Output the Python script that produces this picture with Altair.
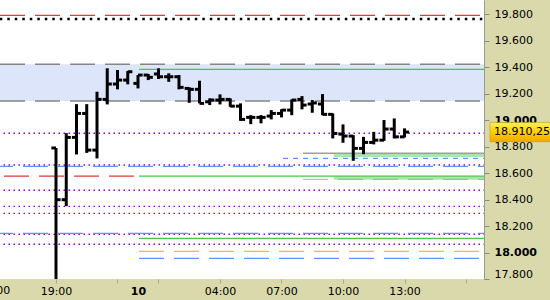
import altair as alt
import pandas as pd

# ---------------- data ----------------
# 30-minute OHLC bars (index points), bar index 0 = 19:00 of the previous day
bar_open  = [18790, 18399, 18870, 19051, 18774, 19157, 19273, 19303, 19278, 19341,
             19349, 19328, 19328, 19240, 19233, 19139, 19152, 19157, 19106, 19021,
             19021, 19031, 19051, 19076, 19157, 19122, 19122, 19044, 18895, 18880,
             18787, 18832, 18849, 18933, 18874]
bar_high  = [18790, 18902, 19121, 19121, 19215, 19392, 19379, 19371, 19341, 19349,
             19392, 19354, 19341, 19248, 19298, 19165, 19195, 19165, 19127, 19038,
             19038, 19076, 19082, 19157, 19182, 19152, 19197, 19051, 18968, 18887,
             18874, 18912, 19001, 19013, 18938]
bar_low   = [17700, 18350, 18741, 18753, 18711, 19119, 19233, 19271, 19240, 19303,
             19311, 19290, 19233, 19131, 19127, 19114, 19119, 19101, 18995, 18970,
             18976, 19006, 19021, 19038, 19082, 19056, 19038, 18862, 18829, 18693,
             18743, 18817, 18844, 18862, 18870]
bar_close = [18399, 18870, 19051, 18774, 19157, 19273, 19303, 19366, 19341, 19324,
             19328, 19328, 19248, 19233, 19127, 19152, 19157, 19106, 19006, 19021,
             19021, 19051, 19076, 19152, 19114, 19130, 19044, 18900, 18880, 18787,
             18832, 18849, 18933, 18874, 18910.25]
last_price = 18910.25

# horizontal levels
band_levels        = [19422, 19145]          # shaded zone (top, bottom)
red_dash_full      = [19792]
black_dot_full     = [19764]
gray_dash_full     = [19422, 19145]
purple_dot_full    = [18901, 18661, 18470, 18349, 18296, 18138, 18062]
blue_dash_full     = [18651, 18145]
red_dash_prevday   = [18577]
green_today        = [19384, 18577, 18107]
orange_dash_today  = [18009]
blue_dash_today    = [17956]
blue_short_dash    = [18712]
gray_solid_late    = [18750]
gray_dash_late     = [18553]
green_band_late    = [18735, 18563]

# starting / ending bar positions of the partial levels
day_start   = 8.1
prev_end    = 7.6
blue_start  = 22.15
gray_start  = 24.1
green_start = 27.1

# axis ticks
x_tick_pos  = [0, 6, 8, 10, 16, 22, 28, 34, 40]
x_tick_text = ["19:00", "", "10", "", "04:00", "07:00", "10:00", "13:00", ""]
prev_label_pos  = [-6]
prev_label_text = ["16:00"]
y_tick_vals = list(range(17800, 19801, 200))

XMIN, XMAX = -5.463, 41.756
YMIN, YMAX = 17800, 19908

FONT = "DejaVu Sans"
TICK = 0.45

# ---------------- scales / axes ----------------
label_expr = "''"
for p, t in zip(reversed(x_tick_pos), reversed(x_tick_text)):
    label_expr = f"datum.value == {p} ? '{t}' : ({label_expr})"

x_scale = alt.Scale(domain=[XMIN, XMAX], nice=False, zero=False)
y_scale = alt.Scale(domain=[YMIN, YMAX], nice=False, zero=False)

x_axis = alt.Axis(
    values=x_tick_pos, labelExpr=label_expr, domain=False, grid=False,
    tickSize=4, tickColor="#A9A996", labelPadding=2, labelFont=FONT,
    labelFontSize=11, labelColor="#000000", labelFlush=False, labelOverlap=False,
    title=None,
    tickOpacity={"condition": {"test": "datum.value == 8", "value": 0}, "value": 1},
    labelFontWeight={"condition": {"test": "datum.value == 8", "value": "bold"}, "value": "normal"},
)
y_axis = alt.Axis(
    orient="right", values=y_tick_vals,
    labelExpr="replace(format(datum.value, ','), ',', '.')",
    domain=True, domainColor="#9A9A9A", grid=False, tickSize=5, tickColor="#8A8A8A",
    labelPadding=5, labelFont=FONT, labelFontSize=11, labelColor="#000000",
    labelFlush=True, labelOverlap=False, title=None,
    labelFontWeight={"condition": {"test": "datum.value % 1000 == 0", "value": "bold"}, "value": "normal"},
)


def X(f="k"):
    return alt.X(f"{f}:Q", scale=x_scale, axis=x_axis)


def Y(f="v"):
    return alt.Y(f"{f}:Q", scale=y_scale, axis=y_axis)


def full_lines(levels, color, width, dash=None, offset=0):
    kw = dict(color=color, strokeWidth=width, clip=True)
    if dash:
        kw["strokeDash"] = dash
        kw["strokeDashOffset"] = offset
    return alt.Chart(pd.DataFrame({"v": levels})).mark_rule(**kw).encode(y=Y())


def part_lines(levels, start, end, color, width, dash=None, offset=0, opacity=1.0):
    kw = dict(color=color, strokeWidth=width, clip=True, opacity=opacity)
    if dash:
        kw["strokeDash"] = dash
        kw["strokeDashOffset"] = offset
    df = pd.DataFrame({"v": levels, "k": [start] * len(levels), "k2": [end] * len(levels)})
    return alt.Chart(df).mark_rule(**kw).encode(x=X(), x2=alt.X2("k2:Q"), y=Y())


# ---------------- layers ----------------
band = alt.Chart(pd.DataFrame({"top": [band_levels[0]], "bot": [band_levels[1]],
                               "k": [XMIN], "k2": [XMAX]})).mark_rect(
    color="#DDE5FB", clip=True).encode(x=X(), x2=alt.X2("k2:Q"), y=Y("top"), y2=alt.Y2("bot:Q"))

layers = [
    band,
    full_lines(red_dash_full, "#E03A3A", 1.3, [25, 10], 31),
    full_lines(black_dot_full, "#000000", 2.5, [2.5, 5], 5.8),
    full_lines(gray_dash_full, "#858585", 1.5, [25, 10], 31),
    full_lines(purple_dot_full, "#8A00D8", 1.4, [1.5, 3.5], 1),
    full_lines(blue_dash_full, "#5A96FF", 1.3, [25, 10], 19),
    part_lines(red_dash_prevday, XMIN, prev_end, "#E03A3A", 1.3, [25, 10], 31),
    part_lines(green_today, day_start, XMAX, "#46C846", 1.4),
    part_lines(orange_dash_today, day_start, XMAX, "#F4B844", 1.4, [25, 10], 0),
    part_lines(blue_dash_today, day_start, XMAX, "#5A96FF", 1.4, [25, 10], 0),
    part_lines(blue_short_dash, blue_start, XMAX, "#5A96FF", 1.3, [5, 5], 0),
    part_lines(gray_solid_late, gray_start, XMAX, "#A0A0A0", 1.3),
    part_lines(gray_dash_late, gray_start, XMAX, "#BDBDBD", 1.3, [25, 10], 0),
    part_lines(green_band_late, green_start, XMAX, "#5CC85C", 3.3, opacity=0.5),
]

bars = pd.DataFrame({"k": list(range(len(bar_open))), "o": bar_open, "h": bar_high,
                     "l": bar_low, "c": bar_close})
base = alt.Chart(bars)
hl = base.mark_rule(color="#000000", strokeWidth=3, clip=True).encode(
    x=X(), y=Y("l"), y2=alt.Y2("h:Q"))
op = base.transform_calculate(k0=f"datum.k - {TICK}").mark_rule(
    color="#000000", strokeWidth=3, clip=True).encode(x=X("k0"), x2=alt.X2("k:Q"), y=Y("o"))
cl = base.transform_calculate(k1=f"datum.k + {TICK}").mark_rule(
    color="#000000", strokeWidth=3, clip=True).encode(x=X(), x2=alt.X2("k1:Q"), y=Y("c"))
layers += [hl, op, cl]

# left-edge time label of previous day
prev_lab = alt.Chart(pd.DataFrame({"k": prev_label_pos, "t": prev_label_text})).mark_text(
    font=FONT, fontSize=11, color="#000000", baseline="middle", align="center").encode(
    x=X(), y=alt.value(291), text="t:N")
layers.append(prev_lab)

# last-price marker on the right axis
price_txt = f"{last_price:,.2f}".replace(",", "X").replace(".", ",").replace("X", ".")
price_df = pd.DataFrame({"v": [last_price], "t": [price_txt]})
grad = alt.Gradient(gradient="linear", x1=0, x2=0, y1=0, y2=1,
                    stops=[alt.GradientStop(color="#FFEE66", offset=0),
                           alt.GradientStop(color="#FFD000", offset=0.5),
                           alt.GradientStop(color="#F2A800", offset=1)])
price_box = alt.Chart(price_df).transform_calculate(
    top="datum.v + 73", bot="datum.v - 73").mark_rect(fill=grad, stroke="#C89A00",
                                                      strokeWidth=0.6).encode(
    x=alt.value(490), x2=alt.value(570), y=Y("top"), y2=alt.Y2("bot:Q"))
price_text = alt.Chart(price_df).mark_text(
    font=FONT, fontSize=11, color="#000000", align="left", baseline="middle").encode(
    x=alt.value(494), y=Y("v"), text="t:N")
layers += [price_box, price_text]

chart = alt.layer(*layers).properties(
    width=484, height=279,
    autosize=alt.AutoSizeParams(type="none"),
    padding={"left": 0, "top": 0, "right": 66, "bottom": 21},
    background="#D9D9AB",
).configure_view(stroke=None, fill="#FFFFFF")

chart.save("out.html", embed_options={"renderer": "svg", "actions": False})
